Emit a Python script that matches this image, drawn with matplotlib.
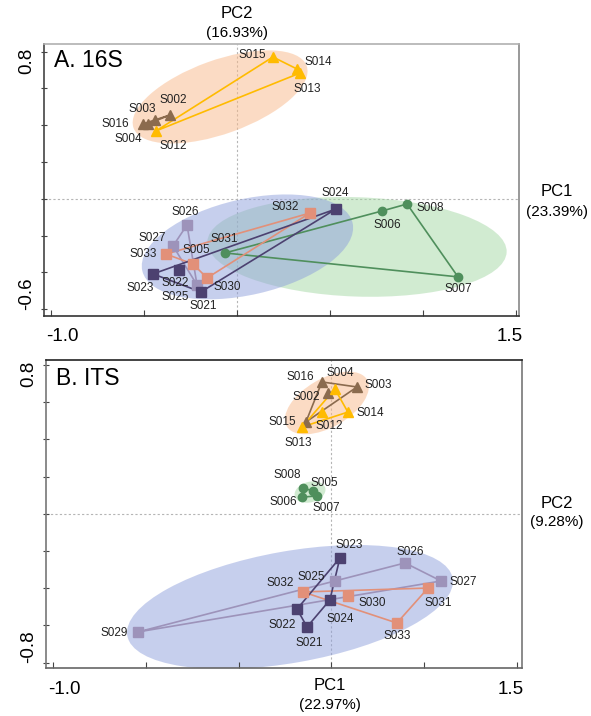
import matplotlib

matplotlib.use("Agg")
import matplotlib.pyplot as plt
from matplotlib.patches import Ellipse
from matplotlib.transforms import ScaledTranslation

plt.rcParams["font.family"] = ["Liberation Sans", "DejaVu Sans"]
plt.rcParams["axes.unicode_minus"] = False

# ---------------- A. 16S ----------------
a_brown_names = ["S016", "S004", "S003", "S002"]
a_brown_x = [-0.505, -0.479, -0.441, -0.360]
a_brown_y = [0.407, 0.407, 0.429, 0.456]

a_yellow_names = ["S015", "S014", "S013", "S012"]
a_yellow_x = [0.193, 0.322, 0.339, -0.436]
a_yellow_y = [0.771, 0.706, 0.684, 0.369]

a_dark_names = ["S024", "S023", "S022", "S021"]
a_dark_x = [0.532, -0.452, -0.312, -0.194]
a_dark_y = [-0.055, -0.408, -0.386, -0.506]

a_light_names = ["S026", "S027", "S025"]
a_light_x = [-0.269, -0.344, -0.215]
a_light_y = [-0.142, -0.256, -0.468]

a_salmon_names = ["S032", "S033", "S031", "S030"]
a_salmon_x = [0.392, -0.382, -0.237, -0.161]
a_salmon_y = [-0.077, -0.300, -0.354, -0.430]

a_green_names = ["S005", "S006", "S008", "S007"]
a_green_x = [-0.065, 0.779, 0.914, 1.188]
a_green_y = [-0.294, -0.066, -0.028, -0.424]

# ---------------- B. ITS ----------------
b_brown_names = ["S016", "S003", "S002", "S004"]
b_brown_x = [0.449, 0.638, 0.482, 0.363]
b_brown_y = [0.709, 0.682, 0.650, 0.494]

b_yellow_names = ["S015", "S014", "S012", "S013"]
b_yellow_x = [0.519, 0.589, 0.449, 0.342]
b_yellow_y = [0.671, 0.547, 0.547, 0.467]

b_green_names = ["S008", "S005", "S007", "S006"]
b_green_x = [0.347, 0.401, 0.422, 0.342]
b_green_y = [0.139, 0.123, 0.096, 0.090]

b_dark_names = ["S023", "S024", "S021", "S022"]
b_dark_x = [0.546, 0.492, 0.369, 0.315]
b_dark_y = [-0.237, -0.463, -0.608, -0.512]

b_light_names = ["S029", "S025", "S026", "S027"]
b_light_x = [-0.542, 0.519, 0.897, 1.091]
b_light_y = [-0.635, -0.361, -0.264, -0.361]

b_salmon_names = ["S032", "S030", "S031", "S033"]
b_salmon_x = [0.347, 0.589, 1.021, 0.853]
b_salmon_y = [-0.420, -0.442, -0.399, -0.587]

# envelope (outline) order for each group
a_outline = {
    "brown": ["S016", "S003", "S002", "S004"],
    "yellow": ["S012", "S015", "S014", "S013"],
    "dark": ["S023", "S024", "S021"],
    "light": ["S026", "S027", "S025"],
    "salmon": ["S033", "S032", "S030", "S031"],
    "green": ["S005", "S006", "S008", "S007"],
}
b_outline = {
    "brown": ["S016", "S003", "S004"],
    "yellow": ["S013", "S015", "S014"],
    "green": ["S008", "S005", "S007", "S006"],
    "dark": ["S023", "S024", "S021", "S022"],
    "light": ["S029", "S025", "S026", "S027"],
    "salmon": ["S032", "S031", "S033"],
}

# label positions (data units)
a_labels = {
    "S015": (0.081, 0.782), "S014": (0.435, 0.744), "S013": (0.376, 0.597),
    "S002": (-0.344, 0.537), "S003": (-0.511, 0.489), "S016": (-0.656, 0.407),
    "S004": (-0.586, 0.326), "S012": (-0.344, 0.287), "S024": (0.527, 0.032),
    "S032": (0.258, -0.044), "S026": (-0.280, -0.071), "S027": (-0.457, -0.213),
    "S031": (-0.070, -0.218), "S033": (-0.505, -0.300), "S005": (-0.220, -0.278),
    "S022": (-0.333, -0.457), "S023": (-0.522, -0.484), "S030": (-0.054, -0.479),
    "S025": (-0.333, -0.533), "S021": (-0.183, -0.582), "S006": (0.806, -0.142),
    "S008": (1.037, -0.049), "S007": (1.188, -0.490),
}
b_labels = {
    "S016": (0.331, 0.735), "S004": (0.546, 0.757), "S003": (0.751, 0.692),
    "S002": (0.363, 0.628), "S014": (0.708, 0.542), "S015": (0.234, 0.494),
    "S012": (0.487, 0.472), "S013": (0.320, 0.381), "S008": (0.261, 0.209),
    "S005": (0.460, 0.166), "S006": (0.239, 0.064), "S007": (0.471, 0.031),
    "S025": (0.390, -0.340), "S032": (0.223, -0.372), "S022": (0.234, -0.598),
    "S024": (0.546, -0.565), "S029": (-0.671, -0.641), "S021": (0.379, -0.694),
    "S023": (0.595, -0.168), "S026": (0.923, -0.205), "S027": (1.209, -0.366),
    "S030": (0.719, -0.479), "S031": (1.074, -0.479), "S033": (0.853, -0.657),
}

# confidence ellipses: centre x, centre y, width, height, angle, colour
a_ellipses = [
    (-0.091, 0.554, 0.99, 0.40, 20, "#f9b98a"),
    (0.645, -0.261, 1.61, 0.54, -2, "#a5d8a5"),
    (0.056, -0.261, 1.16, 0.52, 13, "#8fa0dc"),
]
b_ellipses = [
    (0.476, 0.596, 0.50, 0.26, 30, "#f9b98a"),
    (0.385, 0.117, 0.17, 0.11, 15, "#a5d8a5"),
    (0.277, -0.501, 1.78, 0.60, 10, "#8fa0dc"),
]

STYLE = {
    "brown": dict(color="#8b6b4e", marker="^", ms=7),
    "yellow": dict(color="#ffbb00", marker="^", ms=7),
    "dark": dict(color="#4c4170", marker="s", ms=7.5),
    "light": dict(color="#9d93ba", marker="s", ms=7.5),
    "salmon": dict(color="#e29079", marker="s", ms=7.5),
    "green": dict(color="#4f8f5c", marker="o", ms=6),
}

a_groups = {
    "brown": (a_brown_names, a_brown_x, a_brown_y),
    "yellow": (a_yellow_names, a_yellow_x, a_yellow_y),
    "green": (a_green_names, a_green_x, a_green_y),
    "light": (a_light_names, a_light_x, a_light_y),
    "salmon": (a_salmon_names, a_salmon_x, a_salmon_y),
    "dark": (a_dark_names, a_dark_x, a_dark_y),
}
b_groups = {
    "brown": (b_brown_names, b_brown_x, b_brown_y),
    "yellow": (b_yellow_names, b_yellow_x, b_yellow_y),
    "green": (b_green_names, b_green_x, b_green_y),
    "light": (b_light_names, b_light_x, b_light_y),
    "salmon": (b_salmon_names, b_salmon_x, b_salmon_y),
    "dark": (b_dark_names, b_dark_x, b_dark_y),
}


def draw_panel(ax, groups, outlines, labels, ellipses, title, vline, yticks, ylabels):
    ax.axhline(0, color="#b5b5b5", lw=0.8, ls=(0, (2, 2)), zorder=0.5)
    ax.axvline(vline, color="#b5b5b5", lw=0.8, ls=(0, (2, 2)), zorder=0.5)
    for cx, cy, w, h, ang, col in ellipses:
        ax.add_patch(Ellipse((cx, cy), w, h, angle=ang, facecolor=col,
                             edgecolor="none", alpha=0.5, zorder=1))
    for key, (names, xs, ys) in groups.items():
        st = STYLE[key]
        pos = {n: (x, y) for n, x, y in zip(names, xs, ys)}
        order = outlines[key] + outlines[key][:1]
        ax.plot([pos[n][0] for n in order], [pos[n][1] for n in order],
                color=st["color"], lw=1.2, zorder=2)
        ax.plot(xs, ys, ls="none", marker=st["marker"], ms=st["ms"],
                color=st["color"], mec=st["color"], zorder=3)
    for name, (lx, ly) in labels.items():
        ax.text(lx, ly, name, fontsize=8.5, color="#222222",
                ha="center", va="center", zorder=4)
    ax.text(0.022, 0.94, title, transform=ax.transAxes, fontsize=16.5,
            ha="left", va="center")

    ax.set_xticks([-1.0, -0.5, 0.0, 0.5, 1.0, 1.5])
    ax.set_xticklabels(["-1.0", "", "", "", "", "1.5"])
    ax.set_yticks(yticks)
    ax.set_yticklabels(ylabels)
    ax.tick_params(axis="x", direction="in", length=4, width=0.8,
                   color="#444444", labelsize=13.5, pad=9)
    ax.tick_params(axis="y", direction="inout", length=5, width=0.8,
                   color="#444444", labelsize=13.5, labelrotation=90, pad=4)
    fig = ax.figure
    xt = ax.xaxis.get_major_ticks()
    xt[0].label1.set_transform(xt[0].label1.get_transform()
                               + ScaledTranslation(0.11, 0, fig.dpi_scale_trans))
    xt[-1].label1.set_transform(xt[-1].label1.get_transform()
                                + ScaledTranslation(-0.06, 0, fig.dpi_scale_trans))
    yt = ax.yaxis.get_major_ticks()
    for t in yt:
        t.label1.set_va("center")
    yt[0].label1.set_transform(yt[0].label1.get_transform()
                               + ScaledTranslation(0, 0.16, fig.dpi_scale_trans))
    yt[-1].label1.set_transform(yt[-1].label1.get_transform()
                                + ScaledTranslation(0, -0.09, fig.dpi_scale_trans))


fig = plt.figure(figsize=(5.91, 7.16), dpi=100)

ax1 = fig.add_axes([0.0745, 0.5587, 0.8037, 0.3799])
ax1.set_xlim(-1.0376, 1.516)
ax1.set_ylim(-0.6365, 0.8418)
a_yticks = [-0.6, -0.4, -0.2, 0.0, 0.2, 0.4, 0.6, 0.8]
draw_panel(ax1, a_groups, a_outline, a_labels, a_ellipses, "A. 16S", 0.0,
           a_yticks, ["-0.6", "", "", "", "", "", "", "0.8"])
for side, col in (("left", "#444444"), ("bottom", "#333333"),
                  ("top", "#b0b0b0"), ("right", "#888888")):
    ax1.spines[side].set_color(col)
    ax1.spines[side].set_linewidth(1.2)

ax2 = fig.add_axes([0.0778, 0.0670, 0.8054, 0.4302])
ax2.set_xlim(-1.0377, 1.527)
ax2.set_ylim(-0.829, 0.827)
b_yticks = [-0.8, -0.6, -0.4, -0.2, 0.0, 0.2, 0.4, 0.6, 0.8]
draw_panel(ax2, b_groups, b_outline, b_labels, b_ellipses, "B. ITS", 0.5,
           b_yticks, ["-0.8", "", "", "", "", "", "", "", "0.8"])
for side, col in (("left", "#777777"), ("bottom", "#666666"),
                  ("top", "#222222"), ("right", "#777777")):
    ax2.spines[side].set_color(col)
    ax2.spines[side].set_linewidth(1.2)

# axis captions
fig.text(237 / 591, 1 - 14 / 716, "PC2", fontsize=12, ha="center", va="center")
fig.text(237 / 591, 1 - 33 / 716, "(16.93%)", fontsize=11, ha="center", va="center")
fig.text(557 / 591, 1 - 192 / 716, "PC1", fontsize=12, ha="center", va="center")
fig.text(557 / 591, 1 - 212 / 716, "(23.39%)", fontsize=11, ha="center", va="center")
fig.text(557 / 591, 1 - 503 / 716, "PC2", fontsize=12, ha="center", va="center")
fig.text(557 / 591, 1 - 522 / 716, "(9.28%)", fontsize=11, ha="center", va="center")
fig.text(330 / 591, 1 - 685 / 716, "PC1", fontsize=12, ha="center", va="center")
fig.text(330 / 591, 1 - 705 / 716, "(22.97%)", fontsize=11, ha="center", va="center")

fig.savefig("out.png", dpi=100, facecolor="white")
